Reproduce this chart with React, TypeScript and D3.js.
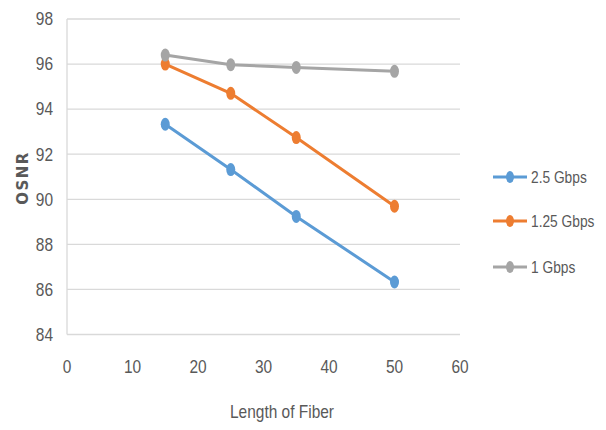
import React from "react";
import * as d3 from "d3";

const lengths = [15, 25, 35, 50];
const seriesNames = ["2.5 Gbps", "1.25 Gbps", "1 Gbps"];
const osnr25 = [93.33, 91.32, 89.24, 86.33];
const osnr125 = [96.0, 94.7, 92.74, 89.69];
const osnr1 = [96.4, 95.97, 95.85, 95.68];
const colors = ["#5b9bd5", "#ed7d31", "#a5a5a5"];
const xTicks = [0, 10, 20, 30, 40, 50, 60];
const yTicks = [84, 86, 88, 90, 92, 94, 96, 98];

const W = 606;
const H = 430;
const font = "'Liberation Sans', Arial, sans-serif";
const SQ = 0.86; // narrow the text like the original's condensed face

// text squeezed horizontally around its anchor
const Txt = ({ x, y, anchor = "start", size = 18, dy = "0", children }: any) => (
  <text
    transform={`translate(${x},${y}) scale(${SQ},1)`}
    dy={dy}
    textAnchor={anchor}
    fontFamily={font}
    fontSize={size}
    fill="#595959"
  >
    {children}
  </text>
);

const App = () => {
  const x = d3.scaleLinear().domain([0, 60]).range([67, 460]);
  const y = d3.scaleLinear().domain([84, 98]).range([334.5, 19]);
  const all = [osnr25, osnr125, osnr1];

  const line = d3
    .line<number>()
    .x((d, i) => x(lengths[i]))
    .y((d) => y(d));

  return (
    <div style={{ position: "absolute", left: 0, top: 0 }}>
      <svg width={W} height={H} style={{ display: "block", background: "#fff" }}>
        {yTicks.map((t) => (
          <g key={t}>
            <line x1={x(0)} x2={x(60)} y1={y(t)} y2={y(t)} stroke="#d9d9d9" strokeWidth={1.3} />
            <Txt x={53} y={y(t)} anchor="end" dy="0.35em">
              {t}
            </Txt>
          </g>
        ))}
        <line x1={x(0)} x2={x(0)} y1={y(98)} y2={y(84)} stroke="#d9d9d9" strokeWidth={1.3} />
        {xTicks.map((t) => (
          <Txt key={t} x={x(t)} y={373} anchor="middle">
            {t}
          </Txt>
        ))}
        <Txt x={282} y={418} anchor="middle">
          Length of Fiber
        </Txt>
        <text
          transform="translate(28,178) rotate(-90)"
          textAnchor="middle"
          fontFamily="'DejaVu Sans', sans-serif"
          fontWeight="bold"
          fontSize={15}
          letterSpacing={1.5}
          fill="#595959"
        >
          OSNR
        </text>

        {all.map((vals, si) => (
          <g key={si}>
            <path d={line(vals) || ""} fill="none" stroke={colors[si]} strokeWidth={3} />
            {vals.map((v, i) => (
              <ellipse key={i} cx={x(lengths[i])} cy={y(v)} rx={4.5} ry={6.5} fill={colors[si]} />
            ))}
          </g>
        ))}

        {seriesNames.map((n, si) => {
          const ly = [177, 221, 267][si];
          return (
            <g key={n}>
              <line x1={493} x2={527} y1={ly} y2={ly} stroke={colors[si]} strokeWidth={3} />
              <ellipse cx={510} cy={ly} rx={4} ry={6} fill={colors[si]} />
              <Txt x={531} y={ly} dy="0.35em" size={16}>
                {n}
              </Txt>
            </g>
          );
        })}
      </svg>
    </div>
  );
};

export default App;
